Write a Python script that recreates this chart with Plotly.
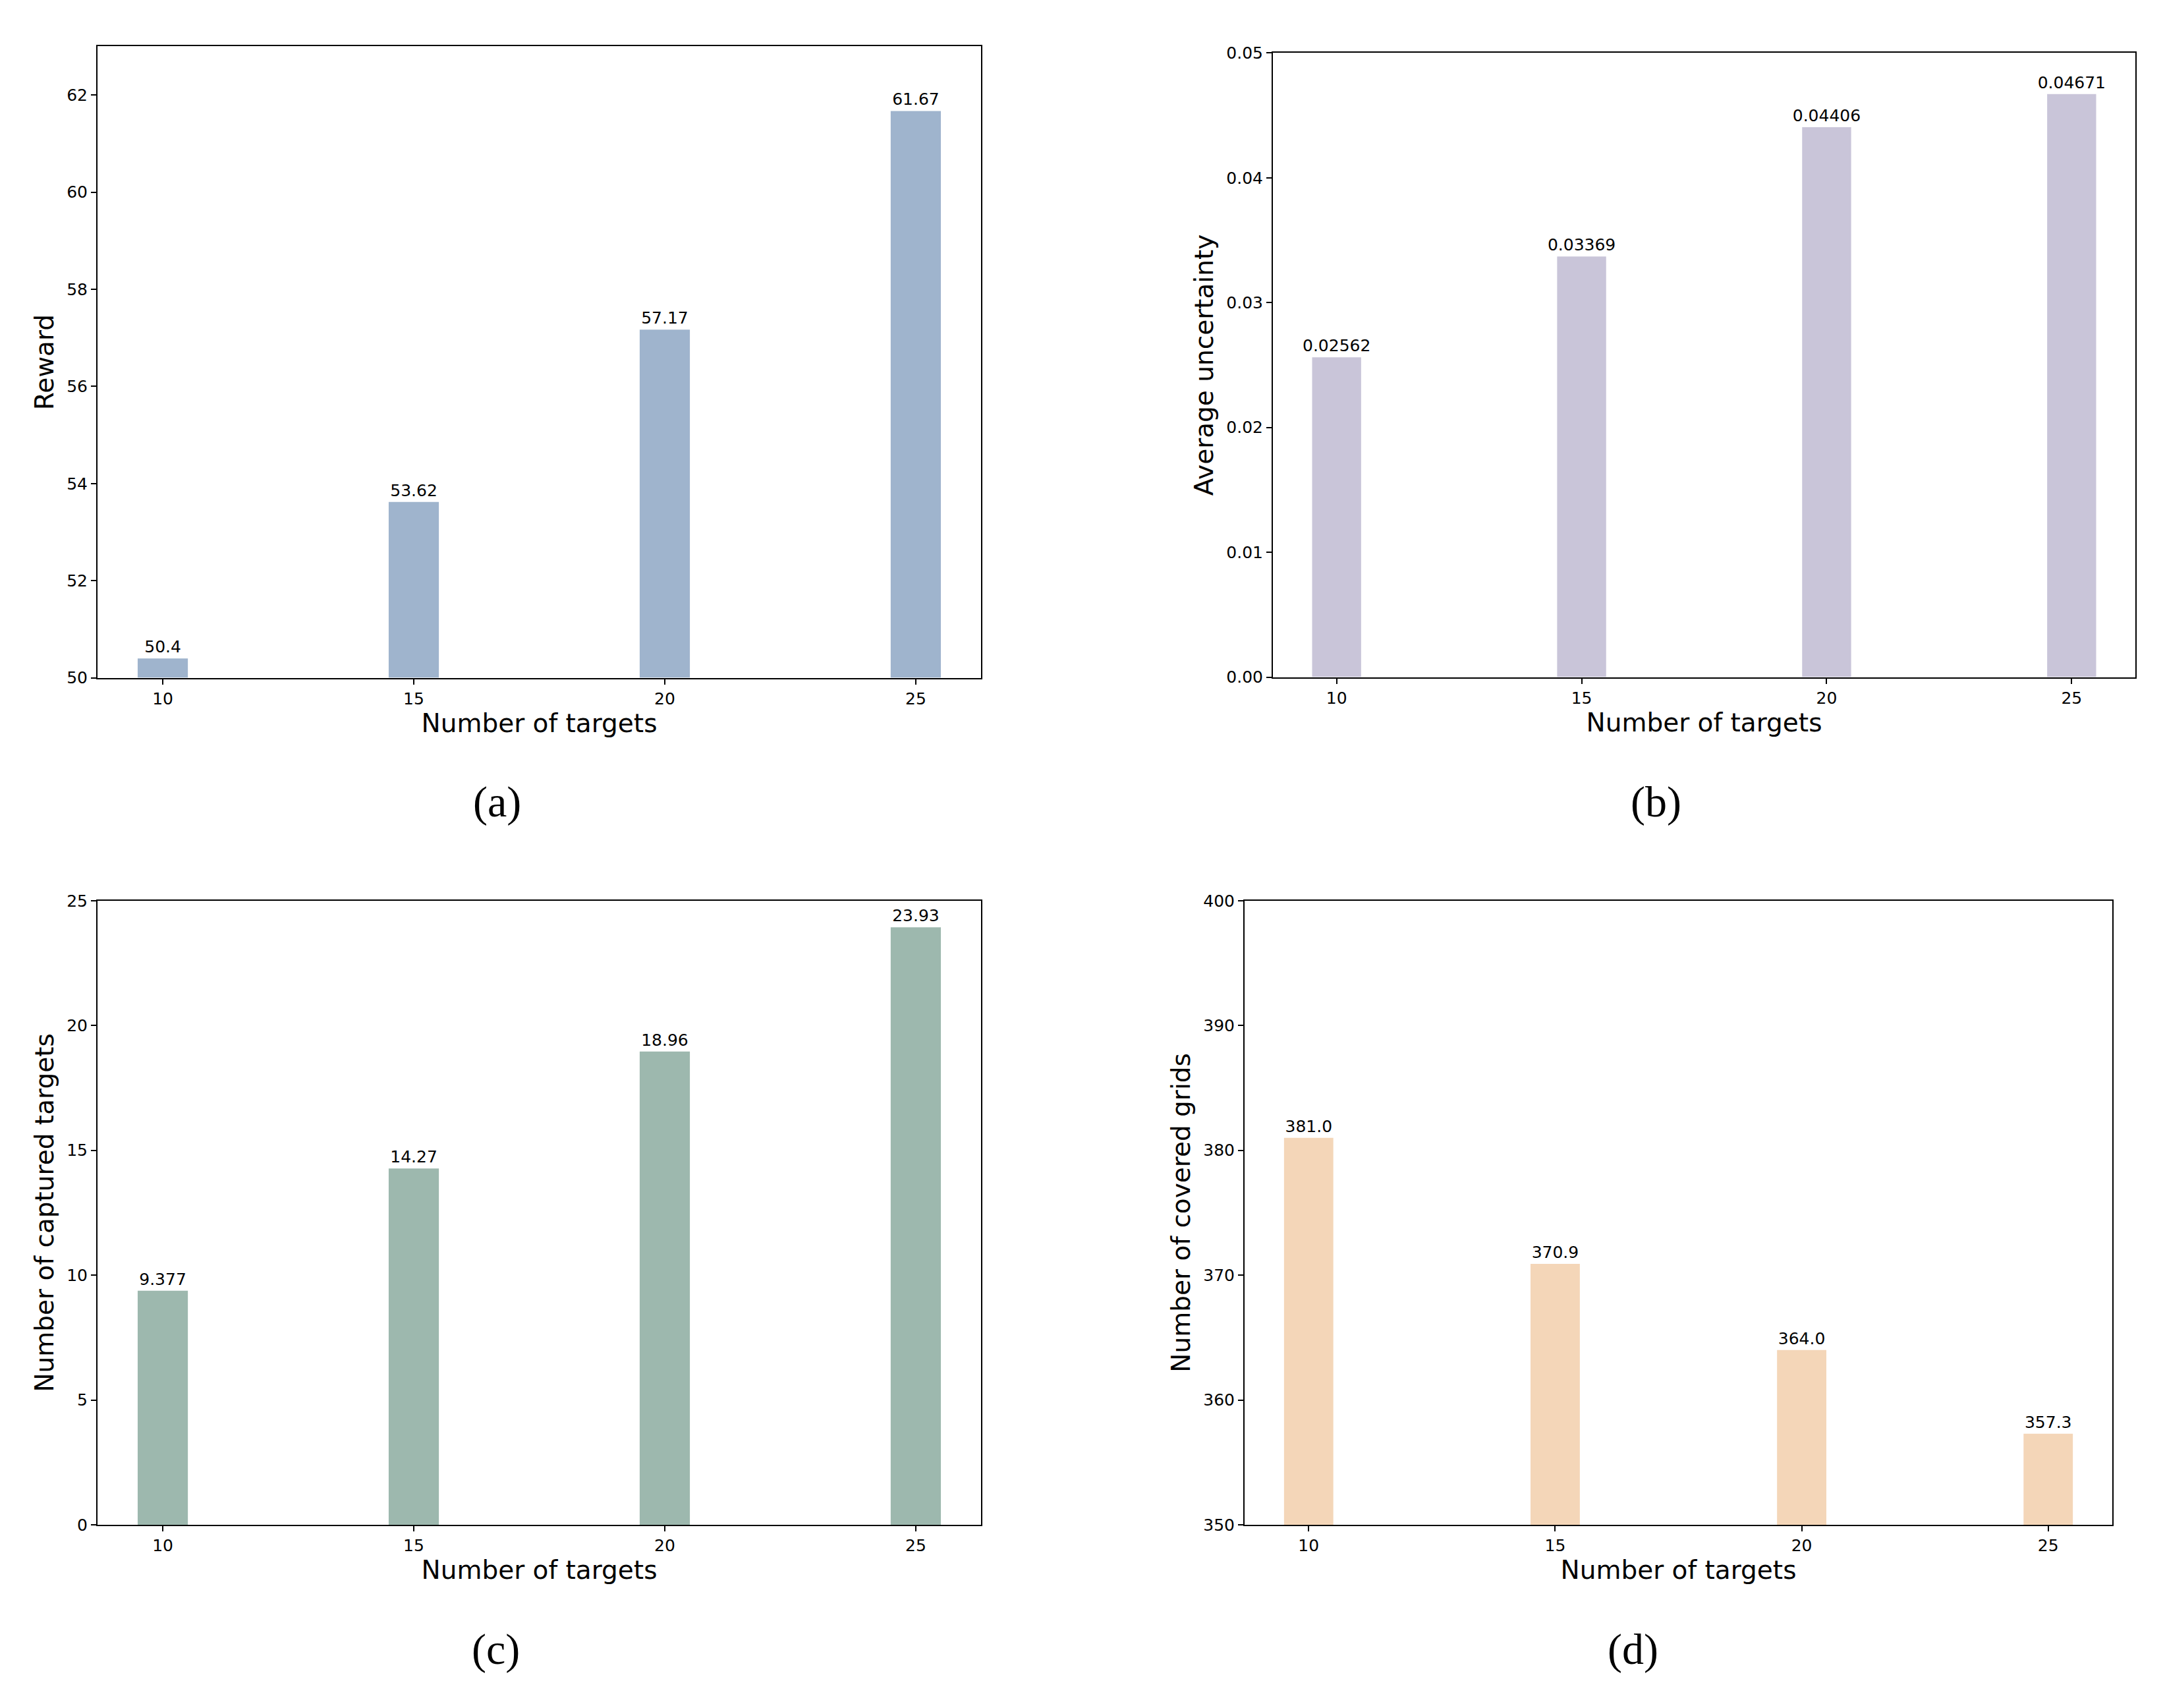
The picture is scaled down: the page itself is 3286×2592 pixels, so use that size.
import plotly.graph_objects as go

W, H = 3286, 2592
SHIFT = 8  # page body margin

targets = [10, 15, 20, 25]

reward = [50.4, 53.62, 57.17, 61.67]
reward_txt = ["50.4", "53.62", "57.17", "61.67"]

uncertainty = [0.02562, 0.03369, 0.04406, 0.04671]
uncertainty_txt = ["0.02562", "0.03369", "0.04406", "0.04671"]

captured = [9.377, 14.27, 18.96, 23.93]
captured_txt = ["9.377", "14.27", "18.96", "23.93"]

covered = [381.0, 370.9, 364.0, 357.3]
covered_txt = ["381.0", "370.9", "364.0", "357.3"]

y_titles = ["Reward", "Average uncertainty", "Number of captured targets", "Number of covered grids"]
captions = ["(a)", "(b)", "(c)", "(d)"]
colors = ["#9fb4cd", "#c9c5d9", "#9db8ae", "#f4d6b8"]

# panel boxes in pixels: left, right, top, bottom
boxes = [(148, 1489, 57, 1026), (1932, 3241, 67, 1025),
         (148, 1489, 1368, 2326), (1889, 3206, 1368, 2326)]
y_ranges = [[50, 63], [0, 0.05], [0, 25], [350, 400]]
y_dticks = [2, 0.01, 5, 10]
y_formats = ["d", ".2f", "d", "d"]
caption_pos = [(754, 1217), (2513, 1217), (752, 2517), (2478, 2517)]

FONT = "DejaVu Sans"


def px(x, y):
    return (x - SHIFT) / W, 1 - (y - SHIFT) / H


fig = go.Figure()
series = [(reward, reward_txt), (uncertainty, uncertainty_txt),
          (captured, captured_txt), (covered, covered_txt)]

for i, (vals, txt) in enumerate(series):
    n = "" if i == 0 else str(i + 1)
    base = y_ranges[i][0] if y_ranges[i][0] > 0 else None
    fig.add_trace(go.Bar(
        x=targets, y=[v - base for v in vals] if base else vals, base=base,
        width=1, marker=dict(color=colors[i], line=dict(width=0)),
        text=txt, textposition="outside", constraintext="none", cliponaxis=False,
        textfont=dict(family=FONT, size=25, color="black"),
        xaxis="x" + n, yaxis="y" + n, showlegend=False, hoverinfo="skip"))

    l, r, t, b = boxes[i]
    x0, y0 = px(l, b)
    x1, y1 = px(r, t)
    common = dict(showline=True, linecolor="black", linewidth=2, mirror=True,
                  ticks="outside", ticklen=8, tickwidth=2, tickcolor="black",
                  showgrid=False, zeroline=False,
                  tickfont=dict(family=FONT, size=25, color="black"))
    fig.update_layout(**{
        "xaxis" + n: dict(common, domain=[x0, x1], range=[8.7, 26.3],
                          tickvals=targets, anchor="y" + n,
                          title=dict(text="Number of targets", standoff=10,
                                     font=dict(family=FONT, size=39, color="black"))),
        "yaxis" + n: dict(common, domain=[y0, y1], range=y_ranges[i],
                          dtick=y_dticks[i], tick0=y_ranges[i][0], tickformat=y_formats[i],
                          anchor="x" + n,
                          title=dict(text=y_titles[i], standoff=8,
                                     font=dict(family=FONT, size=39, color="black"))),
    })
    cx, cy = px(*caption_pos[i])
    fig.add_annotation(x=cx, y=cy, xref="paper", yref="paper",
                       xanchor="center", yanchor="middle",
                       text=captions[i], showarrow=False,
                       font=dict(family="Liberation Serif", size=66, color="black"))

fig.update_layout(width=W, height=H, margin=dict(l=0, r=0, t=0, b=0),
                  plot_bgcolor="white", paper_bgcolor="white")

fig.write_html("out.html")
